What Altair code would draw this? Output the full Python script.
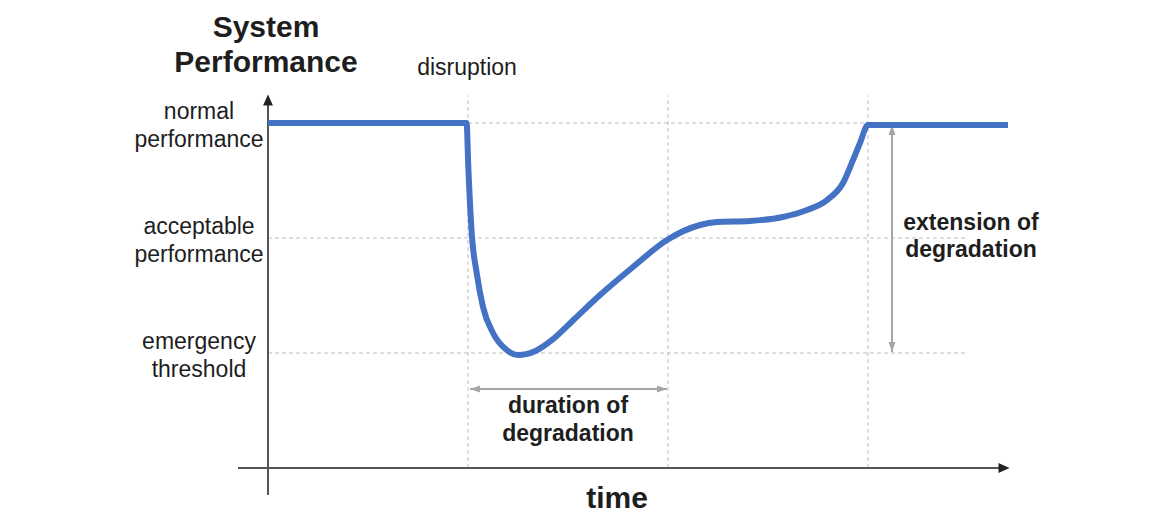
import altair as alt
import pandas as pd

FONT = "Liberation Sans, Arial, Helvetica, sans-serif"
BLUE = "#4472C4"
GRID = "#bdbdbd"
AXIS = "#555555"
ARROW = "#a6a6a6"
TEXT = "#1e1e1e"

# ---- data ----
curve_t = [0, 9.93, 10.015, 10.185, 10.435, 10.75, 11.25, 11.935, 12.5, 12.9, 13.4, 14.25,
           15.35, 16.6, 18.25, 19.95, 21.6, 22.45, 24.1, 25.75, 26.95, 27.95, 28.75,
           29.25, 29.6, 30.0, 37.0]
curve_p = [3.0, 3.0, 2.62, 2.043, 1.696, 1.40, 1.174, 1.026, 0.983, 0.99, 1.02, 1.12,
           1.30, 1.504, 1.748, 1.983, 2.113, 2.139, 2.148, 2.183, 2.243, 2.33, 2.478,
           2.678, 2.826, 2.983, 2.983]

level_values = [3, 2, 1]
level_labels = [["normal", "performance"], ["acceptable", "performance"], ["emergency", "threshold"]]
level_line_start = [10, 0, 0]
level_line_end = [30, 35, 35]

marker_t = [10, 20, 30]
marker_top = 3.24

axis_x_span = [-1.5, 36.8]
axis_y_span = [-0.235, 3.2]

duration_span = [10.1, 19.95]
duration_level = 0.687
extension_span = [1.009, 2.983]
extension_t = 31.2

xs = alt.Scale(domain=[-13, 44.4], nice=False, zero=False)
ys = alt.Scale(domain=[-0.4, 4.0], nice=False, zero=False)


def X(f):
    return alt.X(f, type="quantitative", scale=xs, axis=None)


def Y(f):
    return alt.Y(f, type="quantitative", scale=ys, axis=None)


levels_df = pd.DataFrame({"p": level_values, "t0": level_line_start, "t1": level_line_end,
                          "label": level_labels, "lx": [-3.45] * 3})
markers_df = pd.DataFrame({"t": marker_t, "p0": [0] * 3, "p1": [marker_top] * 3})
curve_df = pd.DataFrame({"t": curve_t, "p": curve_p})

grid_h = alt.Chart(levels_df).mark_rule(color=GRID, strokeWidth=1, strokeDash=[4, 3]).encode(
    x=X("t0"), x2="t1", y=Y("p"))
grid_v = alt.Chart(markers_df).mark_rule(color=GRID, strokeWidth=1, strokeDash=[4, 3]).encode(
    x=X("t"), y=Y("p0"), y2="p1")

xaxis_df = pd.DataFrame({"t0": [axis_x_span[0]], "t1": [axis_x_span[1]], "p": [0]})
yaxis_df = pd.DataFrame({"t": [0], "p0": [axis_y_span[0]], "p1": [axis_y_span[1]]})
xaxis = alt.Chart(xaxis_df).mark_rule(color=AXIS, strokeWidth=2).encode(x=X("t0"), x2="t1", y=Y("p"))
yaxis = alt.Chart(yaxis_df).mark_rule(color=AXIS, strokeWidth=2).encode(x=X("t"), y=Y("p0"), y2="p1")

UP = "M0,-1L-0.9,1L0.9,1Z"
RIGHT = "M1,0L-1,-0.9L-1,0.9Z"
xhead = alt.Chart(pd.DataFrame({"t": [axis_x_span[1]], "p": [0]})).mark_point(
    shape=RIGHT, size=121, filled=True, color="#222222", opacity=1).encode(x=X("t"), y=Y("p"))
yhead = alt.Chart(pd.DataFrame({"t": [0], "p": [axis_y_span[1]]})).mark_point(
    shape=UP, size=121, filled=True, color="#222222", opacity=1).encode(x=X("t"), y=Y("p"))

curve = alt.Chart(curve_df).mark_line(color=BLUE, strokeWidth=6, interpolate="monotone",
                                      strokeCap="butt", strokeJoin="round").encode(
    x=X("t"), y=Y("p"), order="t:Q")

# gray arrows
dur_df = pd.DataFrame({"t0": [duration_span[0]], "t1": [duration_span[1]], "p": [duration_level]})
ext_df = pd.DataFrame({"t": [extension_t], "p0": [extension_span[0]], "p1": [extension_span[1]]})
dur = alt.Chart(dur_df).mark_rule(color=ARROW, strokeWidth=2).encode(x=X("t0"), x2="t1", y=Y("p"))
ext = alt.Chart(ext_df).mark_rule(color=ARROW, strokeWidth=2).encode(x=X("t"), y=Y("p0"), y2="p1")

GR = "M1,0L-1,-0.7L-1,0.7Z"
GL = "M-1,0L1,-0.7L1,0.7Z"
GU = "M0,-1L-0.7,1L0.7,1Z"
GD = "M0,1L-0.7,-1L0.7,-1Z"
head_kw = dict(size=100, filled=True, color=ARROW, opacity=1)
dur_r = alt.Chart(pd.DataFrame({"t": [duration_span[1]], "p": [duration_level]})).mark_point(
    shape=GR, xOffset=-5, **head_kw).encode(x=X("t"), y=Y("p"))
dur_l = alt.Chart(pd.DataFrame({"t": [duration_span[0]], "p": [duration_level]})).mark_point(
    shape=GL, xOffset=5, **head_kw).encode(x=X("t"), y=Y("p"))
ext_u = alt.Chart(pd.DataFrame({"t": [extension_t], "p": [extension_span[1]]})).mark_point(
    shape=GU, yOffset=5, **head_kw).encode(x=X("t"), y=Y("p"))
ext_d = alt.Chart(pd.DataFrame({"t": [extension_t], "p": [extension_span[0]]})).mark_point(
    shape=GD, yOffset=-5, **head_kw).encode(x=X("t"), y=Y("p"))

# texts
level_text = alt.Chart(levels_df).mark_text(font=FONT, fontSize=23, color=TEXT, align="center",
                                            baseline="alphabetic", lineHeight=28, dy=-4).encode(
    x=X("lx"), y=Y("p"), text="label")

title_df = pd.DataFrame({"t": [-0.1], "p": [3.748], "label": [["System", "Performance"]]})
title_text = alt.Chart(title_df).mark_text(font=FONT, fontSize=30, fontWeight="bold", color=TEXT,
                                           align="center", baseline="alphabetic", lineHeight=35).encode(
    x=X("t"), y=Y("p"), text="label")

disr_df = pd.DataFrame({"t": [9.95], "p": [3.417], "label": ["disruption"]})
disr_text = alt.Chart(disr_df).mark_text(font=FONT, fontSize=23, color=TEXT, align="center",
                                         baseline="alphabetic").encode(x=X("t"), y=Y("p"), text="label")

note_df = pd.DataFrame({"t": [15.0, 35.15], "p": [0.478, 2.07],
                        "label": [["duration of", "degradation"], ["extension of", "degradation"]]})
note_text = alt.Chart(note_df).mark_text(font=FONT, fontSize=23, fontWeight="bold", color=TEXT,
                                         align="center", baseline="alphabetic", lineHeight=27.5).encode(
    x=X("t"), y=Y("p"), text="label")

time_df = pd.DataFrame({"t": [17.45], "p": [-0.345], "label": ["time"]})
time_text = alt.Chart(time_df).mark_text(font=FONT, fontSize=30, fontWeight="bold", color=TEXT,
                                         align="center", baseline="alphabetic").encode(
    x=X("t"), y=Y("p"), text="label")

chart = alt.layer(
    grid_h, grid_v, xaxis, yaxis, xhead, yhead, dur, ext, dur_r, dur_l, ext_u, ext_d,
    curve, level_text, title_text, disr_text, note_text, time_text
).properties(width=1148, height=506, padding=0, autosize="none", background="white").configure_view(stroke=None)

chart.save("out.html", embed_options={"renderer": "svg", "actions": False})
